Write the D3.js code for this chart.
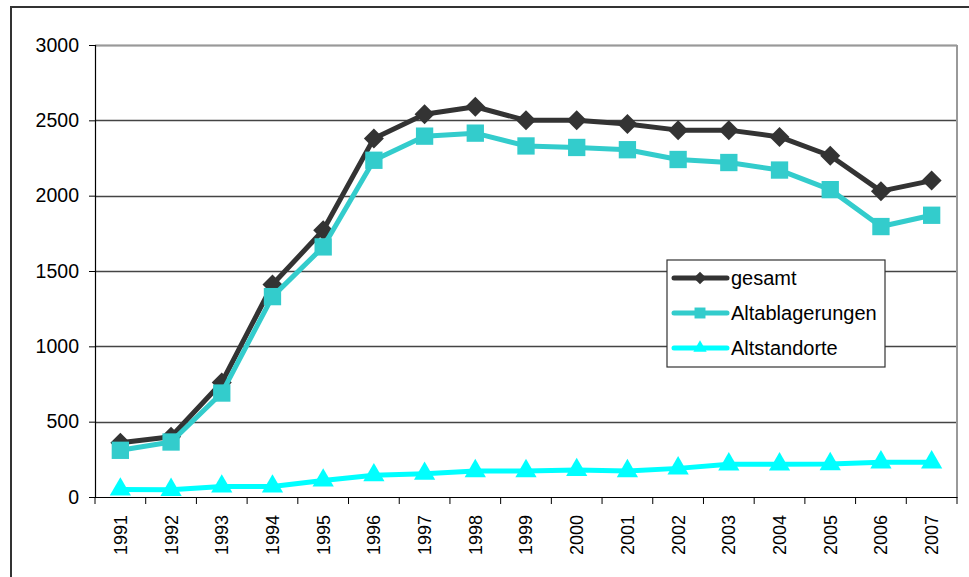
<!DOCTYPE html>
<html><head><meta charset="utf-8">
<script src="https://cdn.jsdelivr.net/npm/d3@7"></script>
<style>html,body{margin:0;padding:0;background:#fff;}svg{display:block;font-family:"Liberation Sans",Arial,sans-serif;}</style>
</head><body><svg id="c" width="969" height="577"></svg>
<script>
const years = ["1991","1992","1993","1994","1995","1996","1997","1998","1999","2000","2001","2002","2003","2004","2005","2006","2007"];
const gesamt = [360,400,760,1410,1770,2380,2540,2590,2500,2500,2475,2435,2435,2390,2265,2030,2100];
const altablagerungen = [310,365,690,1330,1660,2235,2395,2415,2330,2320,2305,2240,2220,2170,2040,1795,1870];
const altstandorte = [50,48,70,70,110,145,155,172,172,180,172,190,217,217,219,230,230];
const yTicks = [0,500,1000,1500,2000,2500,3000];
const seriesNames = ["gesamt","Altablagerungen","Altstandorte"];

const svg = d3.select("#c");
const L=95,R=957,T=45,B=497;
const x = d3.scaleBand().domain(years).range([L,R]);
const y = d3.scaleLinear().domain([0,3000]).range([B,T]);
const FF = "Liberation Sans, Arial, sans-serif";

// outer frame
svg.append("rect").attr("x",11).attr("y",7).attr("width",1000).attr("height",700)
  .attr("fill","none").attr("stroke","#333").attr("stroke-width",2);

// gridlines
svg.append("g").selectAll("line").data(yTicks.filter(d=>d>0)).join("line")
  .attr("x1",L).attr("x2",R).attr("y1",d=>Math.round(y(d))+0.5).attr("y2",d=>Math.round(y(d))+0.5)
  .attr("stroke","#444").attr("stroke-width",1.3);
// plot border right/top gray
svg.append("line").attr("x1",R).attr("x2",R).attr("y1",T).attr("y2",B).attr("stroke","#999").attr("stroke-width",2);
svg.append("line").attr("x1",L).attr("x2",R).attr("y1",T+0.5).attr("y2",T+0.5).attr("stroke","#999").attr("stroke-width",1.5);

// y axis
const ya = svg.append("g").attr("transform",`translate(${L},0)`)
  .call(d3.axisLeft(y).tickValues(yTicks).tickSize(6).tickPadding(10).tickFormat(d3.format("d")));
ya.select(".domain").attr("stroke","#000").attr("stroke-width",1.2);
ya.selectAll(".tick line").attr("stroke","#000");
ya.selectAll("text").attr("font-size",19.5).attr("fill","#000").attr("font-family",FF);

// x axis
const xa = svg.append("g").attr("transform",`translate(0,${B})`)
  .call(d3.axisBottom(x).tickSize(0).tickSizeOuter(0));
xa.select(".domain").attr("stroke","#000").attr("stroke-width",1.2);
xa.selectAll(".tick text").attr("font-size",18).attr("fill","#000")
  .attr("font-family",FF)
  .attr("transform","rotate(-90)").attr("text-anchor","end").attr("dy","0.36em").attr("x",-18).attr("y",0);
// boundary tick marks
const bounds = years.map(d=>x(d)).concat([R]);
xa.append("g").selectAll("line").data(bounds).join("line")
  .attr("x1",d=>d).attr("x2",d=>d).attr("y1",0).attr("y2",7).attr("stroke","#000");

const cx = d=>x(d)+x.bandwidth()/2;
const line = d3.line().x((d,i)=>cx(years[i])).y(d=>y(d));

const cfg = [
  {data:gesamt,color:"#333333",sym:d3.symbolSquare,size:200,rot:45},
  {data:altablagerungen,color:"#33CCCC",sym:d3.symbolSquare,size:300,rot:0},
  {data:altstandorte,color:"#00FFFF",sym:d3.symbolTriangle,size:195,rot:0}
];
[2,0,1].forEach(k=>{
  const c=cfg[k];
  svg.append("path").datum(c.data).attr("d",line).attr("fill","none")
    .attr("stroke",c.color).attr("stroke-width",5).attr("stroke-linejoin","round");
  svg.append("g").selectAll("path").data(c.data).join("path")
    .attr("transform",(d,i)=>`translate(${cx(years[i])},${y(d)}) rotate(${c.rot})`)
    .attr("d",d3.symbol().type(c.sym).size(c.size)).attr("fill",c.color);
});

// legend
const lg = svg.append("g").attr("transform","translate(667,260)");
lg.append("rect").attr("width",218).attr("height",107).attr("fill","#fff").attr("stroke","#333").attr("stroke-width",1.2);
seriesNames.forEach((n,i)=>{
  const c=cfg[i]; const yy=18+i*35;
  lg.append("line").attr("x1",7).attr("x2",60).attr("y1",yy).attr("y2",yy).attr("stroke",c.color).attr("stroke-width",5).attr("stroke-linecap","round");
  lg.append("path").attr("transform",`translate(33,${yy}) rotate(${c.rot})`).attr("d",d3.symbol().type(c.sym).size(c.size*0.4)).attr("fill",c.color);
  lg.append("text").attr("x",64).attr("y",yy).attr("dy","0.36em").attr("font-size",20).attr("font-family",FF).attr("fill","#000").text(n);
});
</script></body></html>
